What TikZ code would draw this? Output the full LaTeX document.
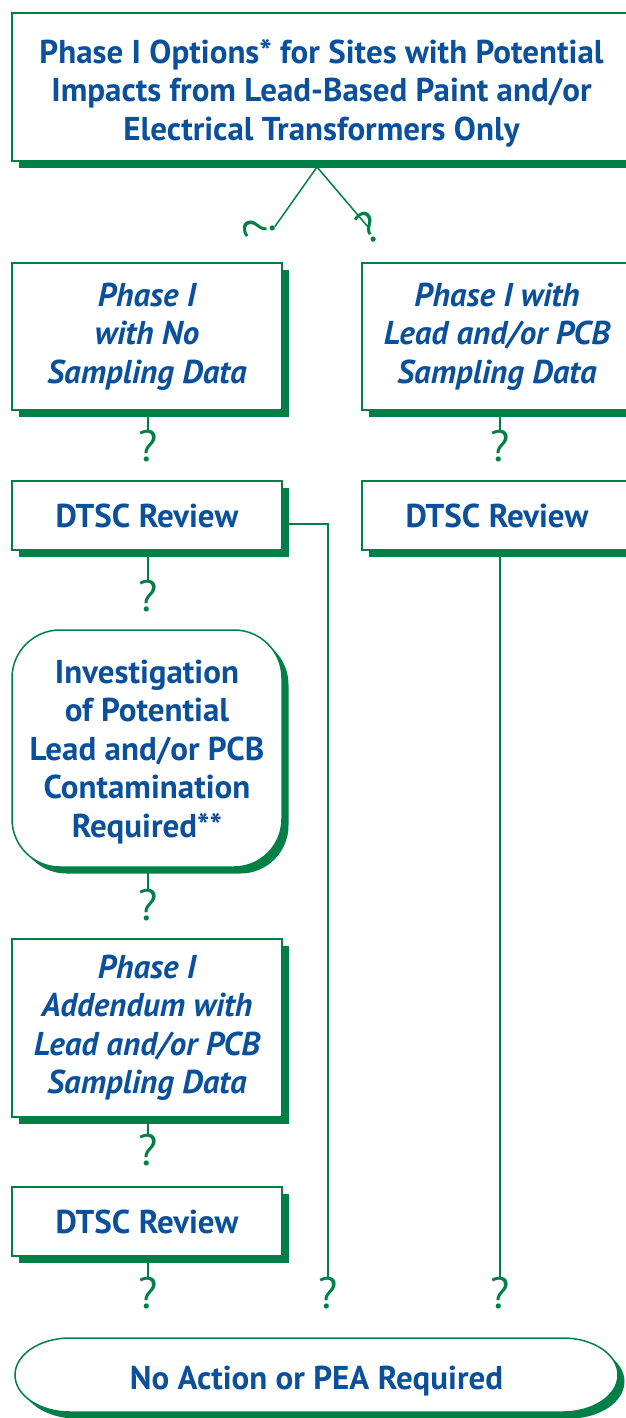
\documentclass[tikz,border=0pt]{standalone}
\usepackage{fontspec}
\setmainfont{PT Sans}
\usepackage{tikz}
\usetikzlibrary{positioning,shadows,calc}
\definecolor{dtscgreen}{RGB}{0,128,70}
\definecolor{dtscblue}{RGB}{10,80,155}
\newcommand{\boxfont}{\fontsize{33}{38.5}\selectfont\bfseries}
\tikzset{
  box/.style={draw=dtscgreen, line width=1.5pt, fill=white, inner sep=0pt, outer sep=0pt,
    minimum width=270pt, align=center, text=dtscblue, font=\boxfont,
    drop shadow={shadow xshift=6.5pt, shadow yshift=-6.5pt, fill=dtscgreen, opacity=1}},
  italicbox/.style={font=\boxfont\itshape},
  endbox/.style={draw=dtscgreen, line width=1.5pt, fill=white,
    preaction={fill=dtscgreen, transform canvas={shift={(6.5pt,-6.5pt)}}}},
  endtext/.style={inner sep=0pt, outer sep=0pt, text=dtscblue, font=\boxfont,
    text height=28pt, text depth=0pt},
  qmark/.style={text=dtscgreen, inner sep=0pt, outer sep=0pt, font=\fontsize{44}{44}\selectfont},
  link/.style={draw=dtscgreen, line width=1.5pt}
}

\begin{document}
\begin{tikzpicture}[x=1pt,y=-1pt]
            \useasboundingbox (0,0) rectangle (626,1418);

            \node[box, minimum width=619pt, minimum height=148pt] (title) at (321.5,87)
                {\rule{0pt}{36pt}Phase I Options* for Sites with Potential\\Impacts from Lead-Based Paint and/or\\Electrical Transformers Only};

            \node[box, italicbox, minimum height=147pt] (nodata) at (147,336.5) {Phase I\\with No\\Sampling Data};
            \node[box, italicbox, minimum height=147pt] (withdata) at (497,336.5) {Phase I with\\Lead and/or PCB\\Sampling Data};
            \node[box, minimum height=69pt] (reviewA) at (147,515.5) {DTSC Review};
            \node[box, minimum height=69pt] (reviewB) at (497,515.5) {DTSC Review};
            \node[box, rounded corners=48pt, minimum height=237pt] (invest) at (147,748.5)
                {\rule{0pt}{30pt}Investigation\\of Potential\\Lead and/or PCB\\Contamination\\Required**};
            \node[box, italicbox, minimum height=178pt] (addendum) at (147,1028) {Phase I\\Addendum with\\Lead and/or PCB\\Sampling Data};
            \node[box, minimum height=69pt] (reviewC) at (147,1221.5) {DTSC Review};

            \coordinate (endL) at (15,1375);
            \coordinate (endR) at (618,1375);
            \draw[endbox] ($(endL)+(55,-37)$) -- ($(endR)+(-55,-37)$)
                arc[start angle=90, end angle=-90, x radius=55pt, y radius=37pt]
                -- ($(endL)+(55,37)$)
                arc[start angle=270, end angle=90, x radius=55pt, y radius=37pt] -- cycle;
            \node[endtext] (final) at (316.5,1375) {No Action or PEA Required};

            \foreach \x/\y/\n in {148/446/qa, 500/446/qb, 148/596/qc, 148/905/qd, 148/1150/qe, 148/1293/qf, 328/1293/qg, 500/1293/qh}
            {
            \node[qmark] (\n) at (\x,\y) {?};
            }
            \node[qmark, rotate=95] (ql) at (259,228) {?};
            \node[qmark, rotate=30] (qr) at (368,227) {?};

            \coordinate (apex) at (317,167);
            \coordinate (elbow) at (328,524);
            \draw[link] (ql.south) -- (apex) -- (qr.center);
            \draw[link] (qa |- nodata.south) -- (qa.north);
            \draw[link] (qb |- withdata.south) -- (qb.north);
            \draw[link] (qc |- reviewA.south) -- (qc.north);
            \draw[link] (qh |- reviewB.south) -- (qh.north);
            \draw[link] (qd |- invest.south) -- (qd.north);
            \draw[link] (qe |- addendum.south) -- (qe.north);
            \draw[link] (qf |- reviewC.south) -- (qf.north);
            \draw[link] (reviewA.east |- elbow) -- (elbow) -- (qg.north);

            \end{tikzpicture}
\end{document}
